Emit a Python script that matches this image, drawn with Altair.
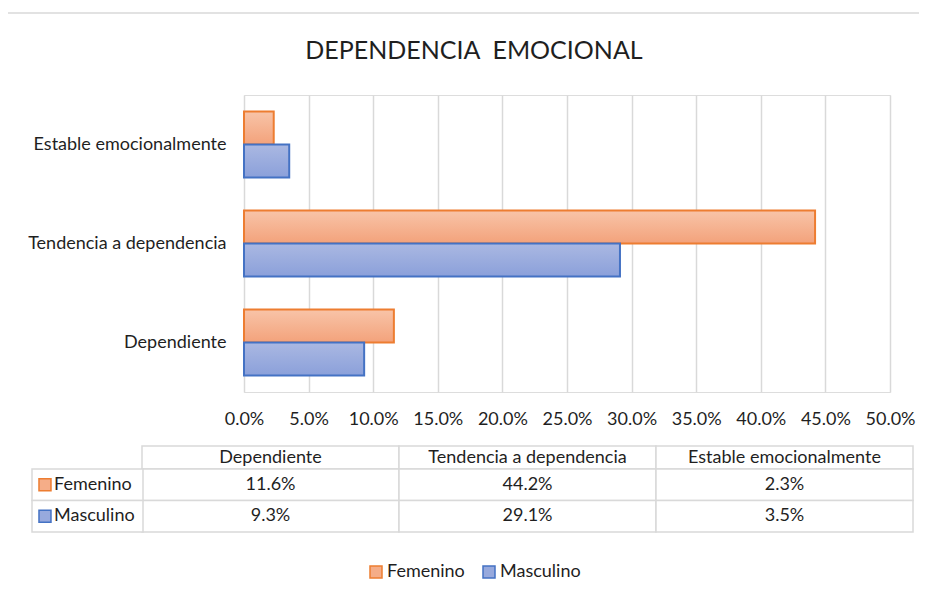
import altair as alt
import pandas as pd

# ---- data ----
categories = ["Dependiente", "Tendencia a dependencia", "Estable emocionalmente"]
series = ["Femenino", "Masculino"]
femenino = [0.116, 0.442, 0.023]
masculino = [0.093, 0.291, 0.035]
tick_values = [0.0, 0.05, 0.10, 0.15, 0.20, 0.25, 0.30, 0.35, 0.40, 0.45, 0.50]
title_text = "DEPENDENCIA\u00a0 EMOCIONAL"

rows = []
for s, vals in zip(series, [femenino, masculino]):
    for c, v in zip(categories, vals):
        rows.append({"Categoria": c, "Serie": s, "Valor": v})
df = pd.DataFrame(rows)
hdr_df = pd.DataFrame({"Categoria": categories, "Fila": ["hdr"] * len(categories)})
lbl_df = pd.DataFrame({"Lbl": ["lbl"] * len(series), "Serie": series})
title_df = pd.DataFrame({"t": [title_text]})

# ---- style ----
FONT = "Lato"
FS = 18
TEXT = "#1f1f1f"
GRID = "#D9D9D9"
stroke_colors = ["#ED7D31", "#4472C4"]
fill_colors = ["#F5AD88", "#97A9DD"]
gradients = [
    alt.LinearGradient(gradient="linear", x1=0, x2=0, y1=0, y2=1,
                       stops=[alt.GradientStop(color="#F8C4A8", offset=0),
                              alt.GradientStop(color="#F3A27B", offset=1)]),
    alt.LinearGradient(gradient="linear", x1=0, x2=0, y1=0, y2=1,
                       stops=[alt.GradientStop(color="#AAB8E2", offset=0),
                              alt.GradientStop(color="#8BA0DA", offset=1)]),
]
W, H = 646, 297
y_order = categories[::-1]

x_scale = alt.Scale(domain=[0, 0.5], nice=False, zero=True)
y_scale = alt.Scale(domain=y_order, paddingInner=1 / 3, paddingOuter=1 / 6)
yoff_scale = alt.Scale(domain=series, paddingInner=0, paddingOuter=0)


def bar_layer(i):
    s = series[i]
    return alt.Chart(df).transform_filter(alt.datum.Serie == s).mark_bar(
        fill=gradients[i], stroke=stroke_colors[i], strokeWidth=2
    ).encode(
        x=alt.X("Valor:Q", scale=x_scale,
                axis=alt.Axis(values=tick_values, format=".1%", title=None,
                              labelFont=FONT, labelFontSize=FS, labelColor=TEXT,
                              labelPadding=18, ticks=False, domain=False,
                              labelOverlap=False, labelFlush=False,
                              grid=True, gridColor=GRID, gridWidth=1.5)),
        y=alt.Y("Categoria:N", sort=y_order, scale=y_scale,
                axis=alt.Axis(title=None, labelFont=FONT, labelFontSize=FS,
                              labelColor=TEXT, labelPadding=18, ticks=False,
                              domain=False, grid=False, labelLimit=400)),
        yOffset=alt.YOffset("Serie:N", scale=yoff_scale, sort=series),
    )


bars = alt.layer(bar_layer(0), bar_layer(1))

# ---- data table under the chart ----
col_scale = alt.Scale(domain=categories, range=[-102, 669], paddingInner=0, paddingOuter=0)
hdr_scale = alt.Scale(domain=["hdr"], range=[351, 374], paddingInner=0, paddingOuter=0)
row_scale = alt.Scale(domain=series, range=[374, 437], paddingInner=0, paddingOuter=0)
lbl_scale = alt.Scale(domain=["lbl"], range=[-212, -101], paddingInner=0, paddingOuter=0)

hdr_base = alt.Chart(hdr_df).encode(
    x=alt.X("Categoria:N", scale=col_scale, sort=categories, axis=None),
    y=alt.Y("Fila:N", scale=hdr_scale, axis=None),
)
hdr = alt.layer(
    hdr_base.mark_rect(fill="#ffffff", stroke=GRID, strokeWidth=1.5),
    hdr_base.mark_text(font=FONT, fontSize=FS, color=TEXT).encode(text="Categoria:N"),
)

cell_base = alt.Chart(df).encode(
    x=alt.X("Categoria:N", scale=col_scale, sort=categories, axis=None),
    y=alt.Y("Serie:N", scale=row_scale, sort=series, axis=None),
)
cells = alt.layer(
    cell_base.mark_rect(fill="#ffffff", stroke=GRID, strokeWidth=1.5),
    cell_base.mark_text(font=FONT, fontSize=FS, color=TEXT).encode(
        text=alt.Text("Valor:Q", format=".1%")),
)

legend_kw = dict(orient="none", legendX=123, legendY=468, direction="horizontal",
                 title=None, symbolType="square", symbolSize=144,
                 symbolStrokeWidth=1.5, labelFont=FONT, labelFontSize=FS,
                 labelColor=TEXT, columnPadding=15, labelOffset=2)

lbl_y = alt.Y("Serie:N", scale=row_scale, sort=series, axis=None)
labels = alt.layer(
    alt.Chart(lbl_df).mark_rect(fill="#ffffff", stroke=GRID, strokeWidth=1.5).encode(
        x=alt.X("Lbl:N", scale=lbl_scale, axis=None), y=lbl_y),
    alt.Chart(lbl_df).mark_text(font=FONT, fontSize=FS, color=TEXT, align="left", dx=22).encode(
        x=alt.X("Lbl:N", scale=lbl_scale, axis=None, bandPosition=0), y=lbl_y,
        text="Serie:N"),
    alt.Chart(lbl_df).mark_square(size=144, strokeWidth=1.5, opacity=1, filled=True).encode(
        x=alt.X("Lbl:N", scale=lbl_scale, axis=None, bandPosition=0.117), y=lbl_y,
        fill=alt.Fill("Serie:N", scale=alt.Scale(domain=series, range=fill_colors),
                      legend=alt.Legend(**legend_kw)),
        stroke=alt.Stroke("Serie:N", scale=alt.Scale(domain=series, range=stroke_colors),
                          legend=alt.Legend(**legend_kw)),
    ),
)

# chart frame (top edge) and title
frame = alt.Chart(title_df).mark_rule(color=GRID, strokeWidth=1.5).encode(
    x=alt.value(-236), x2=alt.value(675), y=alt.value(-82))
title = alt.Chart(title_df).mark_text(
    font=FONT, fontSize=25, color=TEXT, baseline="alphabetic", align="center"
).encode(x=alt.value(230), y=alt.value(-36), text="t:N")

chart = alt.layer(frame, title, bars, hdr, cells, labels).resolve_scale(
    x="independent", y="independent"
).properties(
    width=W, height=H,
    padding={"left": 236, "top": 87, "right": 29, "bottom": 199},
    autosize=alt.AutoSizeParams(type="none"),
).configure_view(stroke=None).configure(background="#ffffff")

chart.save("out.html", embed_options={"renderer": "svg", "actions": False})
